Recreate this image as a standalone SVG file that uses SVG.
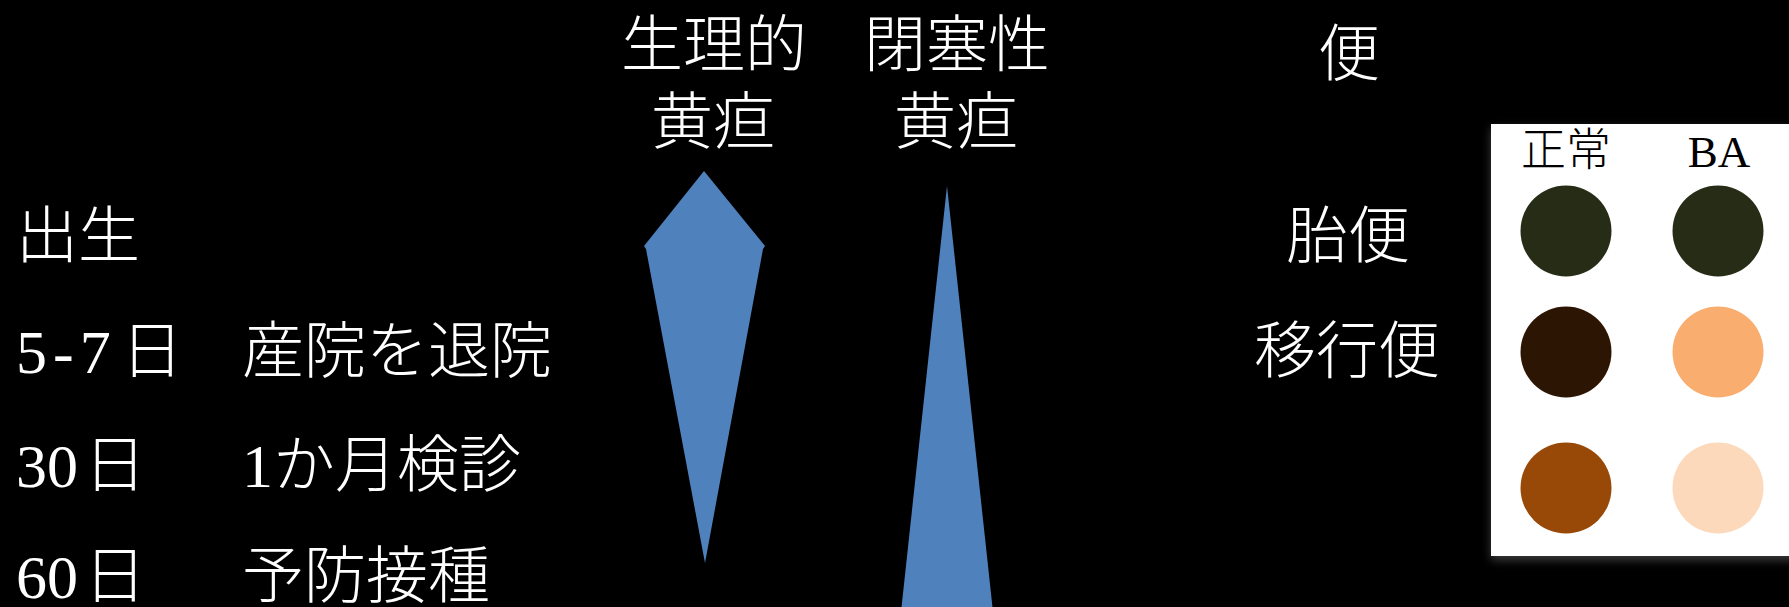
<svg xmlns="http://www.w3.org/2000/svg" width="1789" height="607" viewBox="0 0 1789 607">
<defs>
<style>
.t{font-family:"Liberation Serif","Noto Sans CJK JP",serif;font-size:62px;fill:#ffffff;font-weight:300}
.c{text-anchor:middle}
.p{font-family:"Liberation Serif","Noto Sans CJK JP",serif;font-size:45px;fill:#000000;font-weight:300;text-anchor:middle}
.blue{fill:#4F81BD}
</style>
<filter id="sh" x="-10%" y="-10%" width="120%" height="120%">
<feDropShadow dx="0" dy="4" stdDeviation="5" flood-color="#666666" flood-opacity="0.6"/>
</filter>
</defs>
<rect x="0" y="0" width="1789" height="607" fill="#000000"/>
<g id="timeline">
<text class="t" x="16" y="258">出生</text>
<text class="t" x="16" y="373"><tspan letter-spacing="6">5-7</tspan><tspan x="121">日</tspan></text>
<text class="t" x="242" y="373">産院を退院</text>
<text class="t" x="16" y="487">30<tspan x="84">日</tspan></text>
<text class="t" x="242" y="487">1か月検診</text>
<text class="t" x="16" y="598">60<tspan x="84">日</tspan></text>
<text class="t" x="242" y="598">予防接種</text>
</g>
<g id="physiological">
<text class="t c" x="714" y="67">生理的</text>
<text class="t c" x="713" y="144">黄疸</text>
<polygon class="blue" points="704,171 765,246 763,249 705,563 646,249 644,246"/>
</g>
<g id="obstructive">
<text class="t c" x="957" y="67">閉塞性</text>
<text class="t c" x="956" y="144">黄疸</text>
<polygon class="blue" points="947,186 993,612 901,612"/>
</g>
<g id="stool-labels">
<text class="t c" x="1349" y="76">便</text>
<text class="t c" x="1348" y="258">胎便</text>
<text class="t c" x="1347" y="373">移行便</text>
</g>
<g id="stool-panel">
<rect x="1491" y="124" width="310" height="432" fill="#ffffff" filter="url(#sh)"/>
<text class="p" x="1566" y="166">正常</text>
<text class="p" x="1719" y="167">BA</text>
<circle cx="1566" cy="231" r="45.5" fill="#272C17"/>
<circle cx="1718" cy="231" r="45.5" fill="#272C17"/>
<circle cx="1566" cy="352" r="45.5" fill="#2D1504"/>
<circle cx="1718" cy="352" r="45.5" fill="#F9AD6E"/>
<circle cx="1566" cy="488" r="45.5" fill="#984807"/>
<circle cx="1718" cy="488" r="45.5" fill="#FCD9BB"/>
</g>
</svg>
